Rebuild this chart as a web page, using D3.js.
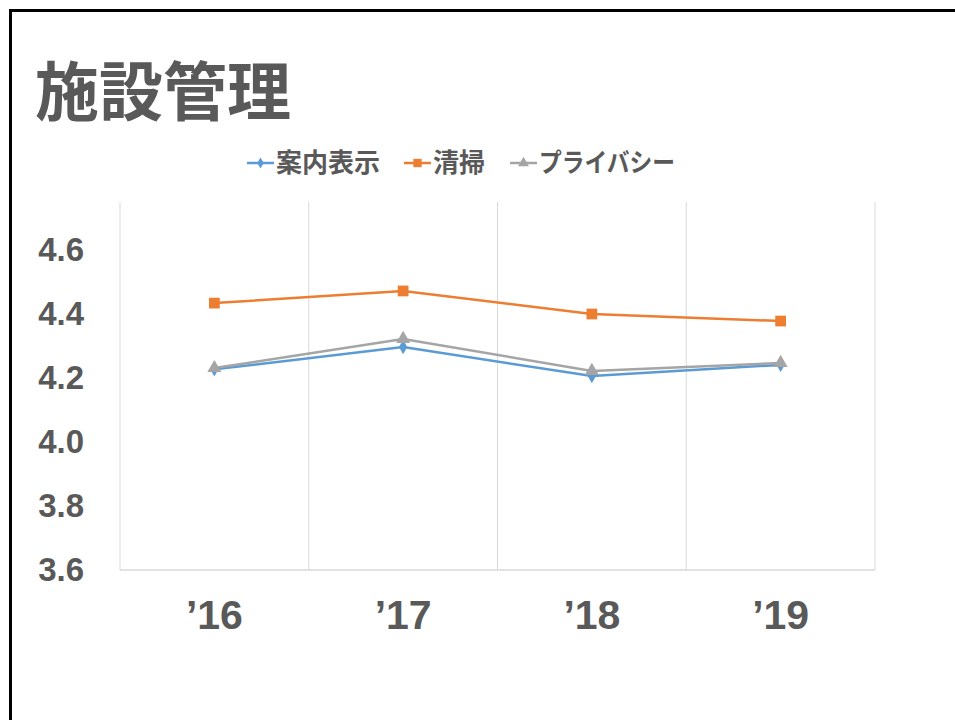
<!DOCTYPE html>
<html>
<head>
<meta charset="utf-8">
<script src="https://cdn.jsdelivr.net/npm/d3@7"></script>
<style>
  body { margin: 0; background: #fff; }
  svg { display: block; }
  .tick line, .domain { display: none; }
</style>
</head>
<body>
<div id="container"></div>
<script>
const years = ["\u201916", "\u201917", "\u201918", "\u201919"];
const seriesNames = ["案内表示", "清掃", "プライバシー"];
const annai = [4.227, 4.297, 4.206, 4.241];
const seisou = [4.434, 4.472, 4.400, 4.378];
const privacy = [4.231, 4.322, 4.222, 4.247];
const yTicks = [3.6, 3.8, 4.0, 4.2, 4.4, 4.6];

const width = 955;
const height = 720;
const plot = { left: 120, right: 875, top: 202, bot: 570 };

const colors = ["#5B9BD5", "#ED7D31", "#A5A5A5"];
const markers = [d3.symbolDiamond, d3.symbolSquare, d3.symbolTriangle];
const markerSize = [60, 115, 85];
const series = [annai, seisou, privacy];

const svg = d3.select("#container")
              .append("svg")
              .attr("width", width)
              .attr("height", height);

// slide frame
svg.append("rect")
   .attr("x", 10.5)
   .attr("y", 10.5)
   .attr("width", 1000)
   .attr("height", 1000)
   .attr("fill", "none")
   .attr("stroke", "#000")
   .attr("stroke-width", 3);

svg.append("text")
   .text("施設管理")
   .attr("x", 35)
   .attr("y", 115)
   .attr("font-family", "'Noto Sans CJK JP'")
   .attr("font-weight", 700)
   .attr("font-size", 64)
   .attr("fill", "#595959");

const xScale = d3.scaleBand()
                 .domain(years)
                 .range([plot.left, plot.right]);

const yScale = d3.scaleLinear()
                 .domain([3.6, 4.75])
                 .range([plot.bot, plot.top]);

// vertical gridlines at category edges
const edges = years.map((d) => xScale(d)).concat([plot.right]);
svg.append("g")
   .selectAll("line")
   .data(edges)
   .enter()
   .append("line")
   .attr("x1", (d) => d)
   .attr("x2", (d) => d)
   .attr("y1", plot.top)
   .attr("y2", plot.bot)
   .attr("stroke", "#D9D9D9")
   .attr("stroke-width", 1);

svg.append("line")
   .attr("x1", plot.left)
   .attr("x2", plot.right)
   .attr("y1", plot.bot)
   .attr("y2", plot.bot)
   .attr("stroke", "#D9D9D9")
   .attr("stroke-width", 1.5);

const yAxis = d3.axisLeft(yScale)
                .tickValues(yTicks)
                .tickFormat(d3.format(".1f"))
                .tickSize(0)
                .tickPadding(0);
svg.append("g")
   .attr("transform", "translate(84, 0)")
   .call(yAxis)
   .selectAll("text")
   .attr("font-family", "'Liberation Sans', Arial, sans-serif")
   .attr("font-weight", 700)
   .attr("font-size", 33)
   .attr("fill", "#595959");

const xAxis = d3.axisBottom(xScale)
                .tickSize(0)
                .tickPadding(0);
svg.append("g")
   .attr("transform", "translate(0, 600)")
   .call(xAxis)
   .selectAll("text")
   .attr("font-family", "'Liberation Sans', Arial, sans-serif")
   .attr("font-weight", 700)
   .attr("font-size", 41)
   .attr("fill", "#595959");

const xc = (i) => xScale(years[i]) + xScale.bandwidth() / 2;
const line = d3.line()
               .x((d, i) => xc(i))
               .y((d) => yScale(d));

// draw in order so gray sits over blue like the original
[1, 0, 2].forEach((s) => {
  svg.append("path")
     .datum(series[s])
     .attr("d", line)
     .attr("fill", "none")
     .attr("stroke", colors[s])
     .attr("stroke-width", 2.5)
     .attr("stroke-linejoin", "round");
  svg.append("g")
     .selectAll("path")
     .data(series[s])
     .enter()
     .append("path")
     .attr("d", d3.symbol().type(markers[s]).size(markerSize[s]))
     .attr("transform", (d, i) => "translate(" + xc(i) + "," + yScale(d) + ")")
     .attr("fill", colors[s]);
});

// legend
const legendX = [247, 404, 510];
const legendTextW = [104, 52, 136];
const legend = svg.append("g");
seriesNames.forEach((name, i) => {
  const g = legend.append("g")
                  .attr("transform", "translate(" + legendX[i] + ", 163)");
  g.append("line")
   .attr("x1", 0)
   .attr("x2", 27)
   .attr("stroke", colors[i])
   .attr("stroke-width", 2.5);
  g.append("path")
   .attr("d", d3.symbol().type(markers[i]).size(markerSize[i] * 0.6))
   .attr("transform", "translate(13.5, 0)")
   .attr("fill", colors[i]);
  g.append("text")
   .text(name)
   .attr("x", 29)
   .attr("y", 9)
   .attr("textLength", legendTextW[i])
   .attr("lengthAdjust", "spacingAndGlyphs")
   .attr("font-family", "'Noto Sans CJK JP'")
   .attr("font-weight", 700)
   .attr("font-size", 26)
   .attr("fill", "#595959");
});
</script>
</body>
</html>
